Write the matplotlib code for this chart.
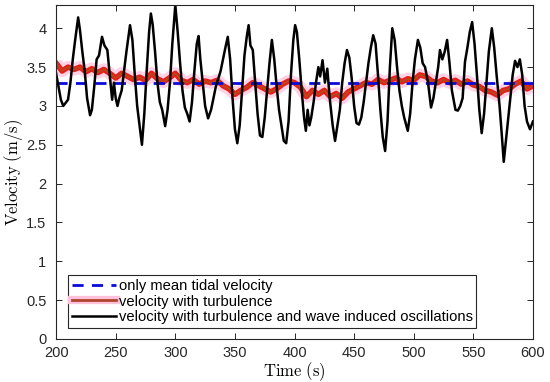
import numpy as np
import matplotlib
matplotlib.use('Agg')
import matplotlib.pyplot as plt
from matplotlib.lines import Line2D

plt.rcParams['font.family'] = ['Liberation Sans', 'DejaVu Sans']
plt.rcParams['mathtext.fontset'] = 'cm'

# mean tidal velocity
mean_vel = 3.3

# velocity with turbulence (read every 5 s)
red_t = np.arange(200, 601, 5)
red_v = [3.55, 3.45, 3.5, 3.47, 3.5, 3.44, 3.48, 3.43, 3.47, 3.42,
         3.36, 3.42, 3.38, 3.34, 3.37, 3.33, 3.42, 3.35, 3.31, 3.36,
         3.42, 3.33, 3.3, 3.34, 3.28, 3.32, 3.3, 3.33, 3.26, 3.22,
         3.15, 3.2, 3.24, 3.3, 3.26, 3.22, 3.18, 3.22, 3.28, 3.32,
         3.3, 3.24, 3.12, 3.2, 3.15, 3.2, 3.12, 3.16, 3.1, 3.18,
         3.22, 3.26, 3.3, 3.28, 3.34, 3.3, 3.33, 3.36, 3.31, 3.35,
         3.33, 3.4, 3.38, 3.32, 3.3, 3.34, 3.3, 3.33, 3.28, 3.32,
         3.27, 3.25, 3.2, 3.18, 3.14, 3.2, 3.22, 3.28, 3.32, 3.22,
         3.26]

# velocity with turbulence and wave induced oscillations
black_t = [200, 202, 204, 206, 208, 210, 212, 214, 216, 218.5,
           220, 222, 224, 226, 228.5, 230, 232, 234, 236, 238.5,
           240.5, 243, 245, 247, 248.5, 250, 251.5, 253, 255, 257,
           259, 261, 262, 264, 266, 268, 270, 272, 274, 276,
           278, 279.5, 281, 283, 285, 287, 289, 291.5, 293.5, 295.5,
           297.5, 300, 302, 304, 306, 308, 310, 312, 314, 316,
           318, 319.5, 321, 323, 325, 327.5, 330, 332, 334, 336,
           338, 340, 342, 344, 346, 348, 350, 352, 354, 356,
           358, 360, 361.5, 363, 365, 367, 369, 371, 373, 375,
           377, 379, 381, 383, 385, 387, 389, 391, 393, 395,
           397, 399, 400.5, 402, 404, 406, 408, 409.5, 411, 412.5,
           414, 416, 418, 420, 421.5, 423.5, 425.5, 427.5, 429.5, 432,
           434, 436, 438, 440, 442, 444, 446, 448, 450, 452,
           454, 456, 458, 460, 462, 464, 466, 468, 470, 472,
           474, 476, 478, 480, 482, 484, 486, 488, 490, 492,
           495, 497, 499, 501, 503.5, 505.5, 507.5, 509.5, 512, 514.5,
           516.5, 518.5, 520.5, 522, 524, 526, 528, 530, 532, 535,
           537, 539, 541, 543, 545, 547, 549, 551, 553, 555,
           557, 559, 561, 563, 565.5, 567.5, 569.5, 572, 574, 575.5,
           577, 579, 581, 583, 585, 587, 589, 591, 593, 595,
           597.5, 600]
black_v = [3.42, 3.25, 3.08, 3.0, 3.04, 3.08, 3.3, 3.6, 3.85, 4.14,
           3.98, 3.7, 3.45, 3.1, 2.88, 2.95, 3.25, 3.6, 3.65, 3.89,
           3.78, 3.72, 3.4, 3.08, 3.3, 3.1, 3.0, 3.1, 3.2, 3.45,
           3.7, 3.92, 4.04, 3.85, 3.4, 3.0, 2.75, 2.5, 2.9, 3.45,
           3.95, 4.19, 4.05, 3.7, 3.3, 3.05, 2.95, 2.74, 2.95, 3.3,
           3.8, 4.3, 3.95, 3.55, 3.2, 2.98, 2.9, 2.8, 3.05, 3.45,
           3.8, 3.9, 3.6, 3.3, 3.0, 2.84, 2.95, 3.1, 3.25, 3.35,
           3.45, 3.6, 3.75, 3.89, 3.6, 3.1, 2.7, 2.52, 2.75, 3.2,
           3.65, 3.9, 4.04, 3.78, 3.72, 3.3, 2.9, 2.62, 2.6, 2.85,
           3.2, 3.55, 3.85, 3.6, 3.25, 2.95, 2.75, 2.55, 2.52, 2.8,
           3.4, 3.85, 4.04, 3.95, 3.6, 3.2, 2.85, 2.68, 2.95, 2.75,
           2.85, 3.05, 3.3, 3.5, 3.38, 3.59, 3.3, 3.48, 3.1, 2.75,
           2.55, 2.75, 2.95, 3.3, 3.55, 3.72, 3.62, 3.35, 3.0, 2.78,
           2.76, 2.85, 3.05, 3.3, 3.55, 3.75, 3.91, 3.8, 3.4, 2.95,
           2.6, 2.42, 2.8, 3.5, 4.0, 3.85, 3.5, 3.2, 3.0, 2.85,
           2.68, 2.9, 3.3, 3.6, 3.85, 3.75, 3.55, 3.5, 3.3, 2.98,
           3.1, 3.3, 3.5, 3.72, 3.6, 3.7, 3.85, 3.55, 3.2, 2.95,
           2.94, 3.0, 3.1, 3.57, 3.75, 3.95, 4.08, 3.8, 3.4, 2.95,
           2.65, 2.9, 3.3, 3.7, 4.0, 3.75, 3.4, 3.0, 2.6, 2.28,
           2.5, 2.8, 3.1, 3.4, 3.58, 3.5, 3.6, 3.4, 3.0, 2.8,
           2.7, 2.8]

labels = ['only mean tidal velocity', 'velocity with turbulence',
          'velocity with turbulence and wave induced oscillations']

fig = plt.figure(figsize=(5.5, 3.82), dpi=100)
ax = fig.add_axes([0.102, 0.1126, 0.867, 0.8744])

# turbulence: pink halo, red core, brown trace
ax.plot(red_t, red_v, color='#ffc0dc', lw=9, alpha=0.7, solid_capstyle='butt')
ax.plot(red_t, red_v, color='#e3201a', lw=4)
ax.plot(red_t, red_v, color='#a85a1c', lw=1.0, alpha=0.8)
ax.plot([200, 600], [mean_vel, mean_vel], color='#0a0adc', lw=2, ls=(0, (4, 3)))
ax.plot(black_t, black_v, color='black', lw=1.8)

ax.set_xlim(200, 600)
ax.set_ylim(0, 4.3)
ax.set_xticks(np.arange(200, 601, 50))
ax.set_yticks(np.arange(0, 4.01, 0.5))
ax.set_yticklabels(['0', '0.5', '1', '1.5', '2', '2.5', '3', '3.5', '4'])
ax.tick_params(direction='in', top=True, right=True, length=4, width=0.7,
               labelsize=10.5, colors='#262626')
ax.tick_params(axis='x', pad=5)
ax.tick_params(axis='y', pad=7)
for s in ax.spines.values():
    s.set_color('#262626')
    s.set_linewidth(0.8)

ax.set_xlabel(r'$\mathrm{Time\ (s)}$', fontsize=12, labelpad=0)
ax.set_ylabel(r'$\mathrm{Velocity\ (m/s)}$', fontsize=12)
ax.yaxis.set_label_coords(-0.065, 0.5)

h_blue = Line2D([], [], color='#0a0adc', lw=2, ls=(0, (4, 3)))
h_red = (Line2D([], [], color='#ffc0dc', lw=6),
         Line2D([], [], color='#b0442a', lw=2))
h_black = Line2D([], [], color='black', lw=1.8)
leg = ax.legend([h_blue, h_red, h_black], labels, loc='lower left',
                bbox_to_anchor=(0.025, 0.033), borderaxespad=0, fontsize=10.6,
                handlelength=3.0, handletextpad=0.2, labelspacing=0.12,
                borderpad=0.25, fancybox=False, framealpha=1)
leg.get_frame().set_edgecolor('#262626')
leg.get_frame().set_linewidth(0.8)

fig.savefig('out.png', dpi=100)
